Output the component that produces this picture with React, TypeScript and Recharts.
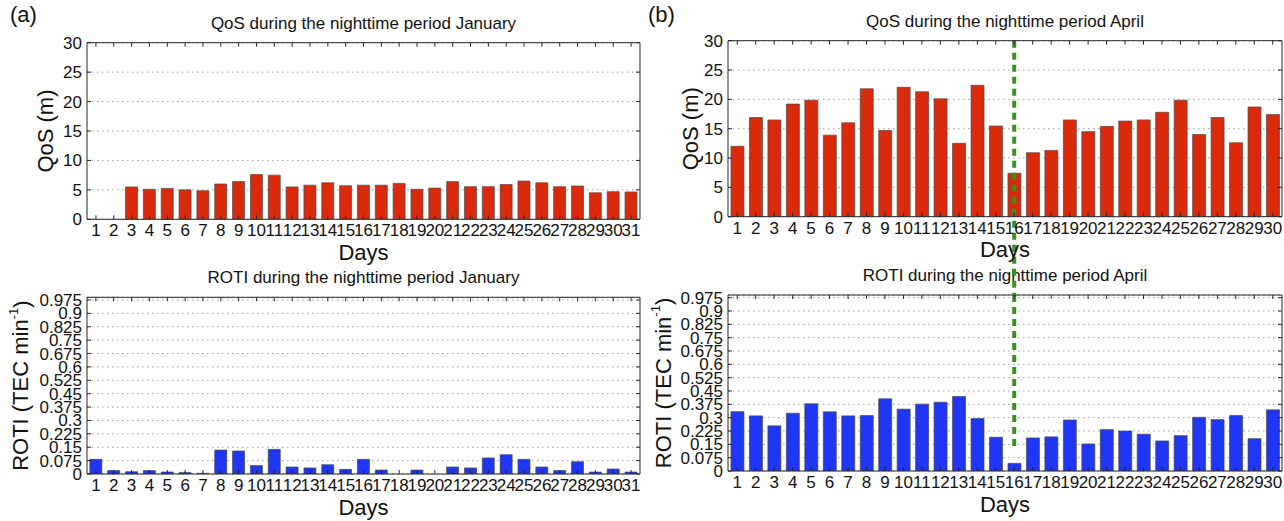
import React from 'react'
import { BarChart, Bar, XAxis, YAxis, CartesianGrid, ReferenceLine, ReferenceArea } from 'recharts'

// Days of each month
const janDays = [1, 2, 3, 4, 5, 6, 7, 8, 9, 10, 11, 12, 13, 14, 15, 16, 17, 18, 19, 20, 21, 22, 23, 24, 25, 26, 27, 28, 29, 30, 31]
const aprDays = [1, 2, 3, 4, 5, 6, 7, 8, 9, 10, 11, 12, 13, 14, 15, 16, 17, 18, 19, 20, 21, 22, 23, 24, 25, 26, 27, 28, 29, 30]

// QoS (m)
const janQos = [0, 0, 5.5, 5.1, 5.25, 5.0, 4.85, 6.0, 6.4, 7.6, 7.5, 5.5, 5.8, 6.2, 5.7, 5.8, 5.8, 6.1, 5.1, 5.3, 6.4, 5.55, 5.55, 5.9, 6.5, 6.2, 5.55, 5.65, 4.5, 4.7, 4.65]
const aprQos = [12.0, 16.9, 16.5, 19.2, 19.85, 13.9, 16.0, 21.8, 14.7, 22.05, 21.3, 20.1, 12.5, 22.4, 15.45, 7.4, 10.9, 11.3, 16.5, 14.5, 15.4, 16.3, 16.5, 17.8, 19.85, 14.0, 16.9, 12.6, 18.7, 17.4]

// ROTI (TEC/min)
const janRoti = [0.082, 0.019, 0.013, 0.019, 0.011, 0.009, 0.004, 0.134, 0.129, 0.047, 0.138, 0.039, 0.034, 0.052, 0.026, 0.082, 0.022, 0, 0.022, 0, 0.039, 0.034, 0.09, 0.108, 0.082, 0.039, 0.019, 0.069, 0.011, 0.028, 0.011]
const aprRoti = [0.334, 0.31, 0.254, 0.325, 0.378, 0.333, 0.31, 0.312, 0.406, 0.348, 0.376, 0.387, 0.419, 0.295, 0.19, 0.043, 0.186, 0.192, 0.287, 0.152, 0.233, 0.225, 0.207, 0.169, 0.199, 0.302, 0.289, 0.312, 0.182, 0.344]

const qosTicks = [0, 5, 10, 15, 20, 25, 30]
const rotiTicks = [0, 0.075, 0.15, 0.225, 0.3, 0.375, 0.45, 0.525, 0.6, 0.675, 0.75, 0.825, 0.9, 0.975]
const qosDomain: [number, number] = [0, 30]
const rotiDomain: [number, number] = [0, 0.99]

// storm day marker (green dashed line in panel b)
const STORM_DAY = 16
const STORM_LINE_END = 0.12

const FONT = '"Liberation Sans", Arial, Helvetica, sans-serif'
const AXIS = '#262626'
const RED = '#DA2A0B'
const BLUE = '#1F36F7'
const GREEN = '#3E8E26'

const toRows = (days: number[], vals: number[]) => days.map((d, i) => ({ day: d, value: vals[i] }))

const fmtTick = (v: number) => String(Number(v.toFixed(3)))
const blank = () => ''

type PanelProps = {
  left: number
  top: number
  axisW: number
  plotW: number
  plotTop: number
  plotH: number
  data: { day: number; value: number }[]
  color: string
  domain: [number, number]
  ticks: number[]
  yLabel: React.ReactNode
  yLabelX: number
  title: string
  children?: React.ReactNode
}

function Panel(p: PanelProps) {
  const xAxisH = 50
  const width = p.axisW + p.plotW + 2
  const height = p.plotTop + p.plotH + xAxisH
  const tickStyle = { fill: '#111', fontSize: 17, fontFamily: FONT }
  return (
    <div style={{ position: 'absolute', left: p.left, top: p.top }}>
      <div
        style={{
          position: 'absolute',
          left: p.axisW,
          width: p.plotW,
          top: p.plotTop - 29,
          textAlign: 'center',
          fontSize: 17,
          lineHeight: '20px',
          fontFamily: FONT,
          color: '#111',
          whiteSpace: 'nowrap',
        }}
      >
        {p.title}
      </div>
      <BarChart
        width={width}
        height={height}
        data={p.data}
        margin={{ top: p.plotTop - 1, right: 1, bottom: 0, left: 0 }}
        barCategoryGap="16%"
      >
        <CartesianGrid vertical={false} stroke="#a0a0a0" strokeDasharray="1.5 3.5" />
        <ReferenceArea fill="none" stroke={AXIS} strokeWidth={1} />
        <XAxis
          dataKey="day"
          interval={0}
          height={xAxisH}
          tickSize={-4}
          tickMargin={9}
          axisLine={{ stroke: AXIS }}
          tickLine={{ stroke: AXIS }}
          tick={tickStyle}
          label={{
            content: (lp: any) => (
              <text
                x={lp.viewBox.x + lp.viewBox.width / 2}
                y={lp.viewBox.y + 33}
                textAnchor="middle"
                dominantBaseline="central"
                fontSize={22}
                fontFamily={FONT}
                fill="#111"
              >
                Days
              </text>
            ),
          }}
        />
        <XAxis
          xAxisId="top"
          dataKey="day"
          orientation="top"
          height={1}
          interval={0}
          tickSize={-4}
          tickFormatter={blank}
          axisLine={{ stroke: AXIS }}
          tickLine={{ stroke: AXIS }}
        />
        <YAxis
          domain={p.domain}
          ticks={p.ticks}
          interval={0}
          width={p.axisW}
          tickSize={-4}
          tickMargin={9}
          allowDataOverflow
          tickFormatter={fmtTick}
          axisLine={{ stroke: AXIS }}
          tickLine={{ stroke: AXIS }}
          tick={tickStyle}
          label={{
            content: (lp: any) => {
              const x = lp.viewBox.x + p.yLabelX
              const y = lp.viewBox.y + lp.viewBox.height / 2
              return (
                <text
                  x={x}
                  y={y}
                  transform={`rotate(-90 ${x} ${y})`}
                  textAnchor="middle"
                  dominantBaseline="central"
                  fontSize={22}
                  fontFamily={FONT}
                  fill="#111"
                >
                  {p.yLabel}
                </text>
              )
            },
          }}
        />
        <YAxis
          yAxisId="right"
          orientation="right"
          domain={p.domain}
          ticks={p.ticks}
          interval={0}
          width={1}
          tickSize={-4}
          tickFormatter={blank}
          allowDataOverflow
          axisLine={{ stroke: AXIS }}
          tickLine={{ stroke: AXIS }}
        />
        <Bar dataKey="value" fill={p.color} stroke="#4a4a4a" strokeWidth={0.7} isAnimationActive={false} />
        {p.children}
      </BarChart>
    </div>
  )
}

const rotiLabel = (
  <>
    ROTI (TEC min
    <tspan dy={-8} fontSize={13}>
      -1
    </tspan>
    <tspan dy={8}>)</tspan>
  </>
)

export default function App() {
  const gap = 295 - 216.7
  const dashProps = { stroke: GREEN, strokeWidth: 4, strokeDasharray: '7 5' }
  return (
    <div style={{ position: 'absolute', left: 0, top: 0, width: 1284, height: 521, background: '#fff', fontFamily: FONT }}>
      <style>{`.recharts-surface{overflow:visible}`}</style>

      {/* bottom row: ROTI */}
      <Panel
        left={0}
        top={255}
        axisW={87}
        plotW={553}
        plotTop={42.3}
        plotH={176.7}
        data={toRows(janDays, janRoti)}
        color={BLUE}
        domain={rotiDomain}
        ticks={rotiTicks}
        yLabel={rotiLabel}
        yLabelX={21}
        title="ROTI during the nighttime period January"
      />
      <Panel
        left={645}
        top={255}
        axisW={83}
        plotW={554}
        plotTop={40}
        plotH={176}
        data={toRows(aprDays, aprRoti)}
        color={BLUE}
        domain={rotiDomain}
        ticks={rotiTicks}
        yLabel={rotiLabel}
        yLabelX={18}
        title="ROTI during the nighttime period April"
      >
        <ReferenceLine
          segment={[
            { x: STORM_DAY, y: rotiDomain[1] },
            { x: STORM_DAY, y: STORM_LINE_END },
          ]}
          {...dashProps}
        />
      </Panel>

      {/* top row: QoS */}
      <Panel
        left={0}
        top={0}
        axisW={87}
        plotW={553}
        plotTop={42.7}
        plotH={176.6}
        data={toRows(janDays, janQos)}
        color={RED}
        domain={qosDomain}
        ticks={qosTicks}
        yLabel="QoS (m)"
        yLabelX={46}
        title="QoS during the nighttime period January"
      />
      <Panel
        left={645}
        top={0}
        axisW={83}
        plotW={554}
        plotTop={40.7}
        plotH={176}
        data={toRows(aprDays, aprQos)}
        color={RED}
        domain={qosDomain}
        ticks={qosTicks}
        yLabel="QoS (m)"
        yLabelX={45}
        title="QoS during the nighttime period April"
      >
        <ReferenceLine
          x={STORM_DAY}
          {...dashProps}
          shape={(lp: any) => (
            <line
              x1={lp.x1}
              x2={lp.x2}
              y1={Math.min(lp.y1, lp.y2)}
              y2={Math.max(lp.y1, lp.y2) + gap}
              {...dashProps}
            />
          )}
        />
      </Panel>

      <div style={{ position: 'absolute', left: 10, top: 2, fontSize: 22, lineHeight: '26px', color: '#111' }}>(a)</div>
      <div style={{ position: 'absolute', left: 648, top: 2, fontSize: 22, lineHeight: '26px', color: '#111' }}>(b)</div>
    </div>
  )
}
